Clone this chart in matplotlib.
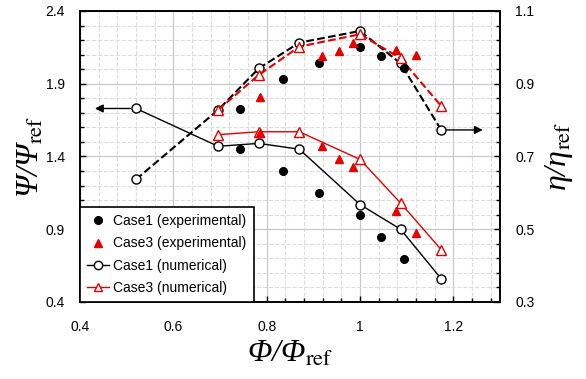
import matplotlib
matplotlib.use('Agg')
import matplotlib.pyplot as plt
from matplotlib.ticker import MultipleLocator
from matplotlib.lines import Line2D

plt.rcParams['font.family'] = ['Liberation Sans', 'DejaVu Sans']
plt.rcParams['mathtext.fontset'] = 'stix'

# numerical results (x positions shared)
phi_c1_num = [0.52, 0.696, 0.783, 0.87, 1.0, 1.087, 1.174]
psi_c1_num = [1.73, 1.47, 1.49, 1.45, 1.07, 0.90, 0.56]
eta_c1_num = [0.637, 0.828, 0.942, 1.013, 1.045, 0.956, 0.773]

phi_c3_num = [0.696, 0.783, 0.87, 1.0, 1.087, 1.174]
psi_c3_num = [1.55, 1.57, 1.57, 1.38, 1.08, 0.76]
eta_c3_num = [0.828, 0.924, 1.002, 1.036, 0.970, 0.839]

# experimental results
phi_c1_exp = [0.743, 0.834, 0.912, 1.0, 1.045, 1.094]
psi_c1_exp = [1.45, 1.30, 1.15, 1.00, 0.845, 0.693]
eta_c1_exp = [0.831, 0.912, 0.956, 1.0, 0.976, 0.944]

phi_c3_exp = [0.786, 0.919, 0.956, 0.984, 1.077, 1.119]
psi_c3_exp = [1.564, 1.474, 1.383, 1.33, 1.025, 0.876]
eta_c3_exp = [0.863, 0.976, 0.99, 1.013, 0.993, 0.979]

xtick_labels = ['0.4', '0.6', '0.8', '1', '1.2']

red = '#e60000'

fig = plt.figure(figsize=(5.86, 3.79), dpi=100)
ax = fig.add_axes([0.1365, 0.2032, 0.7167, 0.7678])
ax2 = ax.twinx()

# head (left axis, solid lines)
ax.plot(phi_c1_num, psi_c1_num, '-o', color='black', lw=1, ms=6.5,
        mfc='white', mec='black', mew=1, zorder=4)
ax.plot(phi_c3_num, psi_c3_num, '-^', color=red, lw=1, ms=6.5,
        mfc='white', mec=red, mew=1, zorder=4)
ax.plot(phi_c1_exp, psi_c1_exp, 'o', color='black', ms=5.5, zorder=5)
ax.plot(phi_c3_exp, psi_c3_exp, '^', color=red, ms=5.5, zorder=5)

# efficiency (right axis, dashed lines)
ax2.plot(phi_c1_num, eta_c1_num, '--o', color='black', lw=1.5, ms=6.5,
         mfc='white', mec='black', mew=1, zorder=4)
ax2.plot(phi_c3_num, eta_c3_num, '--^', color=red, lw=1.5, ms=6.5,
         mfc='white', mec=red, mew=1, zorder=4)
ax2.plot(phi_c1_exp, eta_c1_exp, 'o', color='black', ms=5.5, zorder=5)
ax2.plot(phi_c3_exp, eta_c3_exp, '^', color=red, ms=5.5, zorder=5)

# arrows showing which axis each curve belongs to
ax.annotate('', xy=(0.432, psi_c1_num[0]), xytext=(phi_c1_num[0], psi_c1_num[0]),
            arrowprops=dict(arrowstyle='-|>', color='black', lw=1,
                            shrinkA=4, shrinkB=0, mutation_scale=12))
ax2.annotate('', xy=(1.263, eta_c1_num[-1]), xytext=(phi_c1_num[-1], eta_c1_num[-1]),
             arrowprops=dict(arrowstyle='-|>', color='black', lw=1,
                             shrinkA=4, shrinkB=0, mutation_scale=12))

ax.set_xlim(0.4, 1.3)
ax.set_ylim(0.4, 2.4)
ax2.set_ylim(0.3, 1.1)

ax.xaxis.set_major_locator(MultipleLocator(0.2))
ax.xaxis.set_minor_locator(MultipleLocator(0.04))
ax.yaxis.set_major_locator(MultipleLocator(0.5, offset=0.4))
ax.yaxis.set_minor_locator(MultipleLocator(0.1))
ax2.yaxis.set_major_locator(MultipleLocator(0.2, offset=0.3))
ax2.yaxis.set_minor_locator(MultipleLocator(0.04, offset=0.3))

ax.set_xticks([0.4, 0.6, 0.8, 1.0, 1.2])
ax.set_xticklabels(xtick_labels)

ax.grid(which='major', color='#c8c8c8', lw=0.9, ls='-')
ax.grid(which='minor', color='#dcdcdc', lw=0.8, ls='--')
ax.set_axisbelow(True)

for a in (ax, ax2):
    a.tick_params(which='both', direction='in', labelsize=10, pad=11)
    a.tick_params(which='major', length=4, width=1)
    a.tick_params(which='minor', length=3, width=1)
    for s in a.spines.values():
        s.set_linewidth(1.2)
        s.set_color('black')
ax.tick_params(axis='x', pad=13)
ax.tick_params(axis='both', which='both', top=False, right=False)
ax2.tick_params(axis='y', which='both', left=False)

label_font = dict(family='Liberation Serif', style='italic', size=23)
ax.set_xlabel('Φ/Φ$_{\\mathrm{ref}}$', fontdict=label_font, labelpad=4)
ax.set_ylabel('Ψ/Ψ$_{\\mathrm{ref}}$', fontdict=label_font, labelpad=0)
ax2.set_ylabel('η/η$_{\\mathrm{ref}}$', fontdict=label_font, labelpad=6)

handles = [
    Line2D([], [], ls='none', marker='o', color='black', ms=5.5),
    Line2D([], [], ls='none', marker='^', color=red, ms=5.5),
    Line2D([], [], ls='-', marker='o', color='black', lw=1, ms=6, mfc='white'),
    Line2D([], [], ls='-', marker='^', color=red, lw=1, ms=6, mfc='white'),
]
labels = ['Case1 (experimental)', 'Case3 (experimental)',
          'Case1 (numerical)', 'Case3 (numerical)']
leg = ax2.legend(handles, labels, loc='lower left', borderaxespad=0,
                 fancybox=False, framealpha=1, edgecolor='black', fontsize=10,
                 handlelength=1.6, handletextpad=0.3, labelspacing=0.6,
                 borderpad=0.5)
leg.get_frame().set_linewidth(1.2)

fig.savefig('out.png', dpi=100)
